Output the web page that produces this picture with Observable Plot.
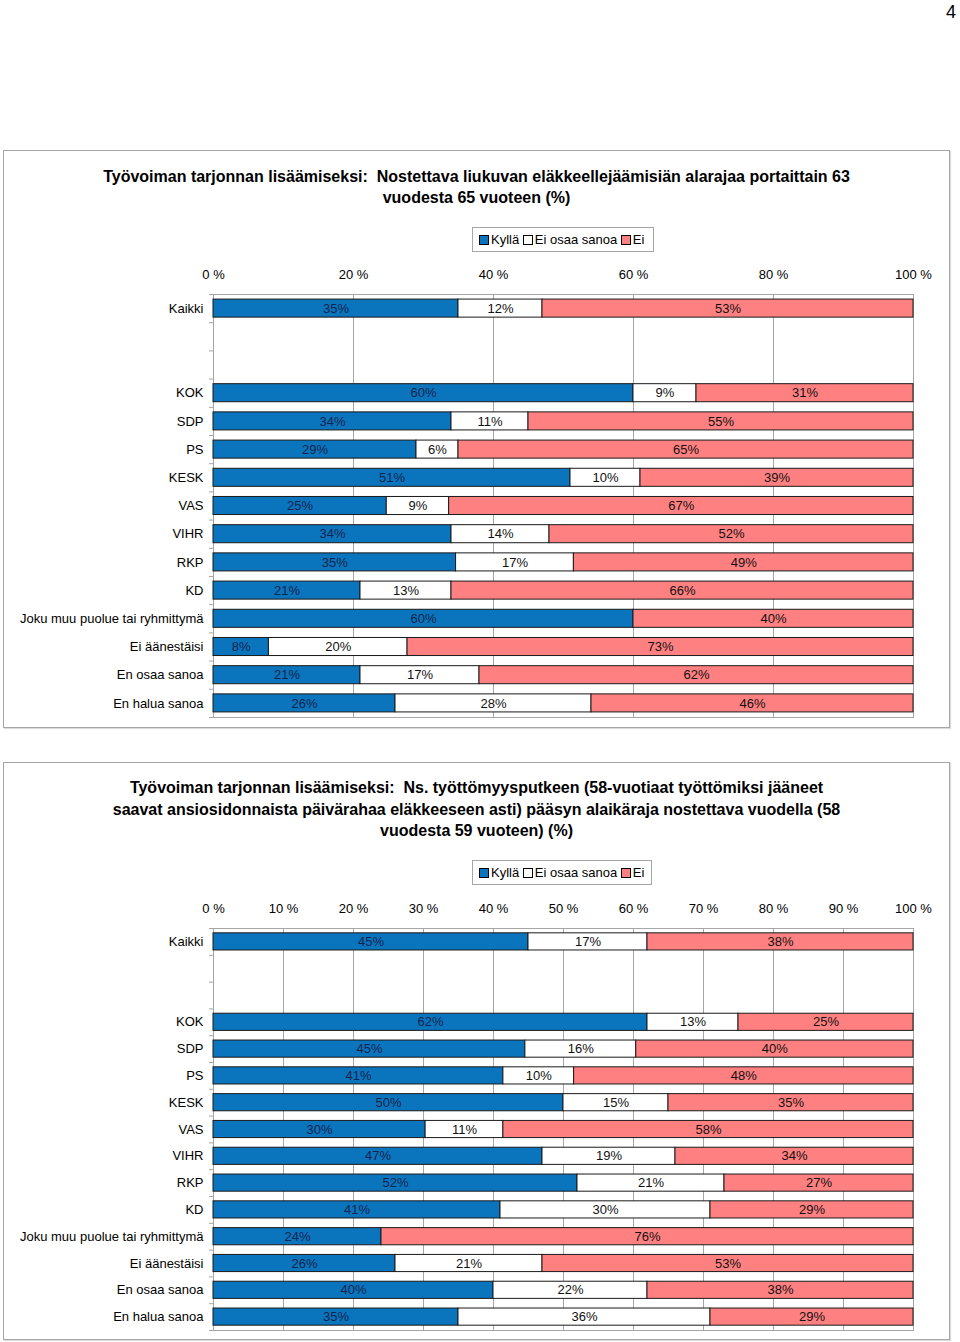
<!DOCTYPE html>
<html><head><meta charset="utf-8">
<script src="https://cdn.jsdelivr.net/npm/d3@7"></script>
<script src="https://cdn.jsdelivr.net/npm/@observablehq/plot@0.6"></script>
<style>
body{margin:0;width:960px;height:1342px;position:relative;font-family:"Liberation Sans",Arial,sans-serif;background:#fff;overflow:hidden;}
.frame{position:absolute;left:3px;width:947px;border:1px solid #a6a6a6;box-sizing:border-box;box-shadow:1px 1px 1px #ddd;}
.title{position:absolute;left:3px;width:947px;text-align:center;font-weight:bold;font-size:16px;line-height:21px;color:#000;}
.legend{position:absolute;left:472px;height:25px;border:1px solid #a6a6a6;box-sizing:border-box;font-size:13px;line-height:23px;padding-left:6px;white-space:nowrap;}
.sw{display:inline-block;width:8px;height:8px;border:1px solid #000;margin-right:2px;vertical-align:-1px;}
.chart{position:absolute;left:0;top:0;}
.chart svg{display:block;}
.pagenum{position:absolute;left:946px;top:2px;font-size:18px;}
</style>
</head><body>
<div class="pagenum">4</div>

<div class="frame" style="top:150px;height:578px;"></div>
<div class="title" style="top:166px;">Työvoiman tarjonnan lisäämiseksi:&nbsp; Nostettava liukuvan eläkkeellejäämisiän alarajaa portaittain 63<br>vuodesta 65 vuoteen (%)</div>
<div class="legend" id="legend1" style="top:227px;width:182px;"></div>
<div class="chart" id="chart1" style="top:260px;"></div>

<div class="frame" style="top:762px;height:578px;"></div>
<div class="title" style="top:777px;line-height:21.5px;">Työvoiman tarjonnan lisäämiseksi:&nbsp; Ns. työttömyysputkeen (58-vuotiaat työttömiksi jääneet<br>saavat ansiosidonnaista päivärahaa eläkkeeseen asti) pääsyn alaikäraja nostettava vuodella (58<br>vuodesta 59 vuoteen) (%)</div>
<div class="legend" id="legend2" style="top:860px;width:180px;"></div>
<div class="chart" id="chart2" style="top:894px;"></div>

<script>
// ---- data ----
const series = ["Kyllä", "Ei osaa sanoa", "Ei"];
const seriesColors = ["#0a74bc", "#ffffff", "#ff8080"];
const rows = ["Kaikki", "KOK", "SDP", "PS", "KESK", "VAS", "VIHR", "RKP", "KD",
  "Joku muu puolue tai ryhmittymä", "Ei äänestäisi", "En osaa sanoa", "En halua sanoa"];
const gapRows = ["gap1", "gap2"];

const kylla1 = [35, 60, 34, 29, 51, 25, 34, 35, 21, 60, 8, 21, 26];
const eos1   = [12, 9, 11, 6, 10, 9, 14, 17, 13, 0, 20, 17, 28];
const ei1    = [53, 31, 55, 65, 39, 67, 52, 49, 66, 40, 73, 62, 46];
const ticks1 = [0, 20, 40, 60, 80, 100];

const kylla2 = [45, 62, 45, 41, 50, 30, 47, 52, 41, 24, 26, 40, 35];
const eos2   = [17, 13, 16, 10, 15, 11, 19, 21, 30, 0, 21, 22, 36];
const ei2    = [38, 25, 40, 48, 35, 58, 34, 27, 29, 76, 53, 38, 29];
const ticks2 = [0, 10, 20, 30, 40, 50, 60, 70, 80, 90, 100];

// ---- legends ----
function legend(id) {
  const el = document.getElementById(id);
  el.innerHTML = series.map((s, i) =>
    `<span class="sw" style="background:${seriesColors[i]}"></span>${s}`).join(" ");
}
legend("legend1");
legend("legend2");

// ---- charts ----
function makeChart(id, k, e, n, ticks, plotHeight) {
  const table = [];
  rows.forEach((r, i) => {
    [k[i], e[i], n[i]].forEach((v, j) => table.push({row: r, series: series[j], value: v}));
  });
  const domain = [rows[0], ...gapRows, ...rows.slice(1)];
  const step = plotHeight / domain.length;
  const labelColor = {"Kyllä": "#14244e", "Ei osaa sanoa": "#111", "Ei": "#111"};
  const stackOpts = {x: "value", y: "row", order: series, offset: "normalize"};
  const marginTop = 34, marginBottom = 10;
  const tickLen = 4 / 700;
  const chart = Plot.plot({
    width: 960,
    height: marginTop + plotHeight + marginBottom,
    marginLeft: 213,
    marginRight: 47,
    marginTop,
    marginBottom,
    style: {fontFamily: "'Liberation Sans', Arial, sans-serif", fontSize: "13px", color: "#000", background: "transparent"},
    x: {domain: [0, 1]},
    y: {domain, paddingInner: 0.36, paddingOuter: 0.18, round: false},
    color: {domain: series, range: seriesColors},
    marks: [
      Plot.ruleX(ticks, {x: d => d / 100, stroke: "#a6a6a6", strokeWidth: 1}),
      Plot.frame({stroke: "#a6a6a6"}),
      Plot.ruleY(domain, {y: d => d, x1: -tickLen, x2: 0, dy: -step / 2, stroke: "#a6a6a6"}),
      Plot.ruleY(domain.slice(-1), {y: d => d, x1: -tickLen, x2: 0, dy: step / 2, stroke: "#a6a6a6"}),
      Plot.barX(table, Plot.stackX({...stackOpts, fill: "series", stroke: "#1a1a1a", strokeWidth: 1})),
      Plot.text(table.filter(d => d.value > 0), Plot.stackX({
        ...stackOpts, z: "series",
        text: d => d.value + "%",
        fill: d => labelColor[d.series],
        fontSize: 13
      })),
      Plot.axisX({anchor: "top", ticks: ticks.map(t => t / 100), tickSize: 0, tickPadding: 16, label: null,
        tickFormat: d => Math.round(d * 100) + " %", fontSize: 13}),
      Plot.axisY({tickSize: 0, tickPadding: 10, fontSize: 13, label: null,
        tickFormat: d => gapRows.includes(d) ? "" : d})
    ]
  });
  document.getElementById(id).appendChild(chart);
}
makeChart("chart1", kylla1, eos1, ei1, ticks1, 423);
makeChart("chart2", kylla2, eos2, ei2, ticks2, 402);
</script>
</body></html>
